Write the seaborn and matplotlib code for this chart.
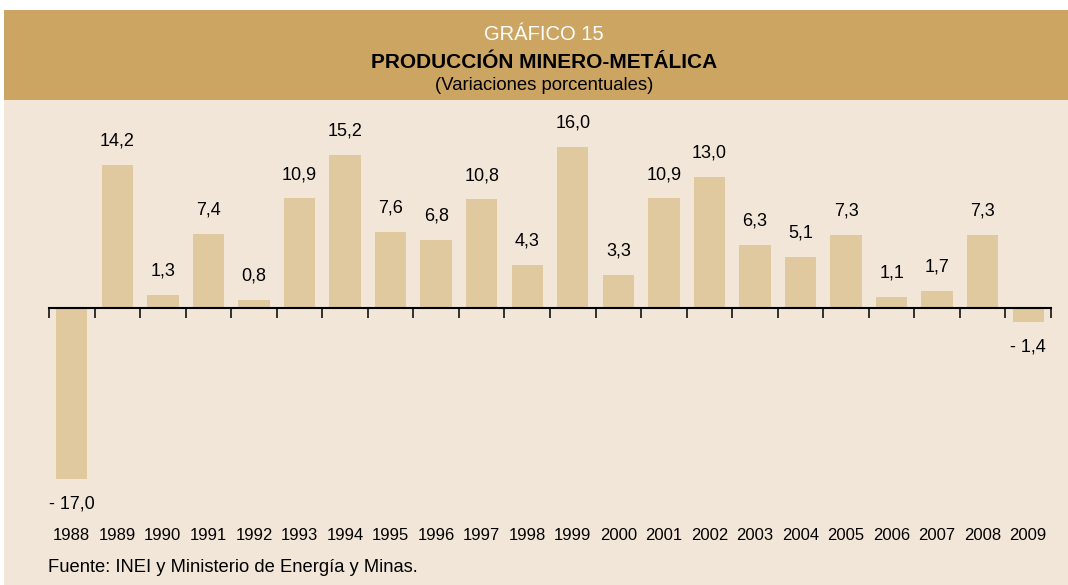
import matplotlib
matplotlib.use("Agg")
import numpy as np
import pandas as pd
import matplotlib.pyplot as plt
import seaborn as sns
from matplotlib.patches import Rectangle
import matplotlib.transforms as mtransforms

# data
years = [str(y) for y in range(1988, 2010)]
variation = [-17.0, 14.2, 1.3, 7.4, 0.8, 10.9, 15.2, 7.6, 6.8, 10.8, 4.3,
             16.0, 3.3, 10.9, 13.0, 6.3, 5.1, 7.3, 1.1, 1.7, 7.3, -1.4]

df = pd.DataFrame({"year": years, "var": variation})

W, H = 1068, 585
plt.rcParams['font.family'] = ['Liberation Sans', 'DejaVu Sans']

fig = plt.figure(figsize=(W / 100, H / 100), dpi=100, facecolor="white")

# backgrounds: light panel and header band (behind the axes)
fig.patches.append(Rectangle((4 / W, 0), 1 - 4 / W, 1 - 100 / H, transform=fig.transFigure,
                             facecolor="#F2E6D8", edgecolor="none", zorder=-2))
fig.patches.append(Rectangle((4 / W, 1 - 100 / H), 1 - 4 / W, 90 / H, transform=fig.transFigure,
                             facecolor="#CCA563", edgecolor="none", zorder=-2))

fig.text(0.5 + 10 / W, 1 - 34 / H, "GRÁFICO 15", color="white", ha="center", va="center", fontsize=14.5)
fig.text(0.5 + 10 / W, 1 - 62 / H, "PRODUCCIÓN MINERO-METÁLICA", color="black", ha="center",
         va="center", fontsize=15, fontweight="bold")
fig.text(0.5 + 10 / W, 1 - 85 / H, "(Variaciones porcentuales)", color="black", ha="center",
         va="center", fontsize=13.3)

# axes area in pixels
ax_left, ax_right = 49, 1051
ax_top, ax_bot = 110, 490
ax = fig.add_axes([ax_left / W, 1 - ax_bot / H, (ax_right - ax_left) / W, (ax_bot - ax_top) / H])
ax.set_facecolor("none")

sns.barplot(data=df, x="year", y="var", color="#E0C89F", saturation=1, width=0.69, ax=ax)

zero_px = 308
scale = 10.06
ax.set_ylim(-(ax_bot - zero_px) / scale, (zero_px - ax_top) / scale)
ax.set_xlim(-0.5, len(years) - 0.5)

for s in ["top", "right", "left"]:
    ax.spines[s].set_visible(False)
ax.spines["bottom"].set_position(("data", 0))
ax.spines["bottom"].set_linewidth(1.5)
ax.spines["bottom"].set_color("black")
ax.set_xticks(np.arange(-0.5, len(years), 1))
ax.set_xticklabels([])
ax.tick_params(axis="x", direction="out", length=7.5, width=1.3, color="#222222")
ax.set_yticks([])
ax.set_xlabel("")
ax.set_ylabel("")

def fmt(v):
    s = f"{abs(v):.1f}".replace(".", ",")
    return ("- " + s) if v < 0 else s

for i, v in enumerate(variation):
    if v >= 0:
        ax.annotate(fmt(v), (i, v), xytext=(0, 11), textcoords="offset points",
                    ha="center", va="bottom", fontsize=13, annotation_clip=False)
    else:
        ax.annotate(fmt(v), (i, v), xytext=(0, -12), textcoords="offset points",
                    ha="center", va="top", fontsize=13, annotation_clip=False)

trans = mtransforms.blended_transform_factory(ax.transData, fig.transFigure)
for i, y in enumerate(years):
    ax.text(i, 1 - 535 / H, y, transform=trans, ha="center", va="center", fontsize=12, clip_on=False)

fig.text(48 / W, 1 - 568 / H, "Fuente: INEI y Ministerio de Energía y Minas.", ha="left",
         va="center", fontsize=13.2)

fig.savefig("out.png", dpi=100, facecolor=fig.get_facecolor())
